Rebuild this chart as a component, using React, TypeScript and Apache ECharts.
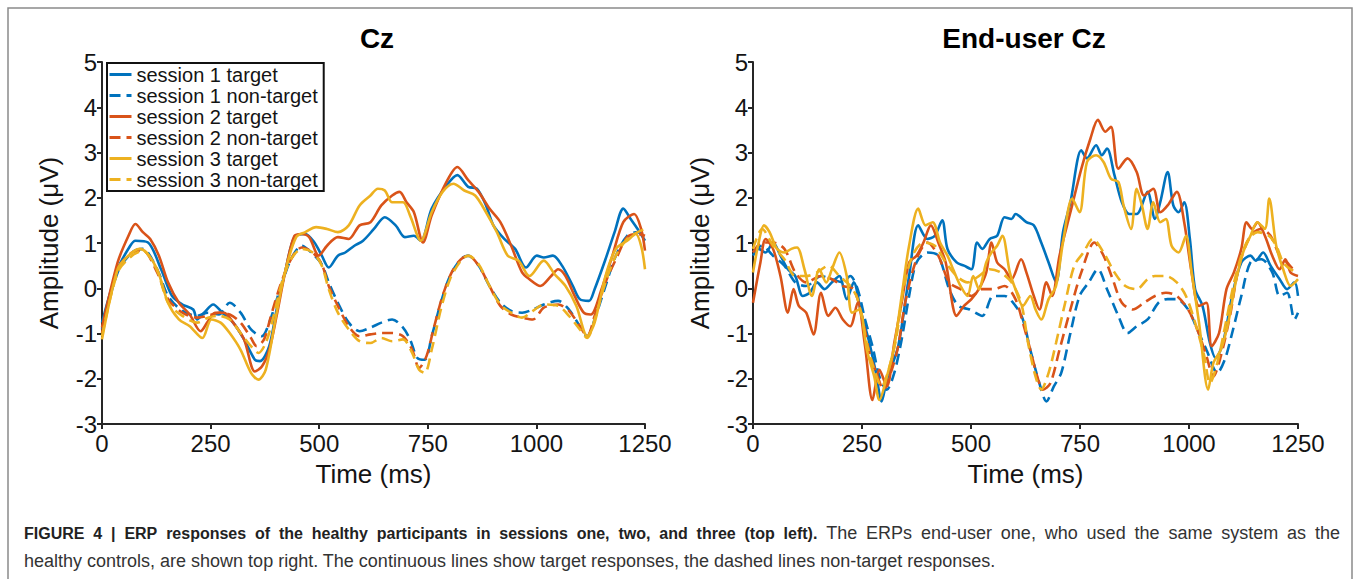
import React, { useEffect, useRef } from "react";
import * as echarts from "echarts";

const FONT = '"Liberation Sans", Arial, Helvetica, sans-serif';
const BLUE = "#0072BD";
const RED = "#D95319";
const YELLOW = "#EDB120";

const TITLES = ["Cz", "End-user Cz"];
const X_NAME = "Time (ms)";
const Y_NAME = "Amplitude (\u03bcV)";
const LEGEND_NAMES = [
  "session 1 target",
  "session 1 non-target",
  "session 2 target",
  "session 2 non-target",
  "session 3 target",
  "session 3 non-target",
];
const CAPTION_BOLD =
  "FIGURE 4 | ERP responses of the healthy participants in sessions one, two, and three (top left).";
const CAPTION_1 = "The ERPs end-user one, who used the same system as the";
const CAPTION_2 =
  "healthy controls, are shown top right. The continuous lines show target responses, the dashed lines non-target responses.";

// [time (ms), amplitude (µV)] — healthy participants (Cz)
const L_S1T = [[0,-0.76],[36,0.42],[65,0.94],[77,1.05],[106,1.01],[136,0.42],[161,-0.17],[185,-0.36],[210,-0.47],[219,-0.69],[235,-0.54],[256,-0.36],[277,-0.54],[302,-0.76],[327,-1.13],[352,-1.58],[364,-1.61],[385,-1.28],[402,-0.47],[423,0.42],[443,1.13],[468,1.2],[489,1.01],[506,0.72],[522,0.46],[543,0.72],[560,0.79],[581,0.94],[601,1.05],[626,1.31],[651,1.57],[676,1.39],[697,1.13],[718,1.16],[734,1.05],[759,1.76],[793,2.27],[818,2.5],[843,2.24],[863,2.2],[884,1.83],[901,1.39],[926,1.09],[951,0.87],[976,0.46],[1001,0.72],[1017,0.68],[1038,0.72],[1059,0.5],[1084,0.05],[1100,-0.24],[1121,-0.28],[1134,-0.02],[1159,0.64],[1180,1.24],[1200,1.76],[1217,1.53],[1233,1.31],[1250,1.05]];
const L_S1N = [[0,-0.91],[36,0.35],[69,0.79],[94,0.87],[127,0.42],[152,-0.17],[185,-0.5],[219,-0.61],[244,-0.54],[269,-0.58],[294,-0.32],[319,-0.54],[343,-0.91],[368,-1.06],[385,-0.76],[410,-0.02],[435,0.64],[460,0.94],[485,0.76],[506,0.53],[522,0.13],[543,-0.32],[568,-0.76],[593,-0.95],[618,-0.87],[643,-0.76],[668,-0.69],[693,-0.87],[709,-1.13],[726,-1.54],[743,-1.58],[759,-1.06],[780,-0.32],[801,0.27],[826,0.64],[843,0.72],[867,0.5],[892,0.05],[917,-0.32],[942,-0.5],[967,-0.54],[992,-0.47],[1017,-0.36],[1050,-0.28],[1075,-0.47],[1100,-0.84],[1117,-1.06],[1134,-0.69],[1159,0.05],[1183,0.72],[1209,1.16],[1233,1.24],[1250,1.13]];
const L_S2T = [[0,-0.87],[36,0.57],[61,1.16],[77,1.42],[94,1.24],[111,1.09],[131,0.72],[152,0.13],[177,-0.32],[202,-0.58],[227,-0.95],[244,-0.73],[260,-0.54],[281,-0.54],[302,-0.76],[327,-1.13],[352,-1.84],[368,-1.73],[385,-1.36],[402,-0.61],[423,0.42],[443,1.16],[460,1.2],[477,1.13],[499,0.72],[518,0.94],[543,1.13],[568,1.09],[593,1.39],[618,1.46],[643,1.83],[668,2.05],[685,2.13],[701,1.9],[718,1.68],[739,1.01],[759,1.61],[793,2.35],[818,2.68],[843,2.39],[867,2.13],[892,1.76],[917,1.46],[942,0.94],[967,0.35],[984,0.2],[1009,0.05],[1034,0.27],[1050,0.42],[1067,0.27],[1088,-0.17],[1109,-0.54],[1125,-0.58],[1150,-0.02],[1175,0.72],[1200,1.46],[1225,1.64],[1241,1.31],[1250,0.83]];
const L_S2N = [[0,-0.99],[36,0.42],[69,0.79],[94,0.83],[127,0.35],[152,-0.24],[185,-0.54],[219,-0.65],[244,-0.61],[269,-0.54],[294,-0.58],[319,-0.76],[343,-1.1],[356,-1.28],[373,-1.13],[389,-0.61],[410,0.05],[435,0.64],[460,0.9],[485,0.79],[506,0.53],[522,0.05],[543,-0.39],[568,-0.84],[593,-1.06],[618,-1.02],[643,-0.99],[668,-0.99],[693,-1.06],[714,-1.36],[730,-1.76],[747,-1.5],[763,-0.91],[784,-0.17],[805,0.35],[826,0.64],[843,0.72],[867,0.5],[892,0.05],[917,-0.39],[942,-0.58],[967,-0.65],[992,-0.69],[1017,-0.43],[1050,-0.36],[1075,-0.5],[1100,-0.84],[1117,-1.06],[1134,-0.61],[1159,0.13],[1183,0.64],[1209,1.13],[1233,1.2],[1250,1.16]];
const L_S3T = [[0,-1.13],[36,0.42],[61,0.72],[86,0.87],[102,0.79],[127,0.42],[152,-0.32],[177,-0.69],[202,-0.84],[231,-1.1],[252,-0.69],[273,-0.76],[294,-0.99],[319,-1.36],[343,-1.87],[360,-2.02],[377,-1.8],[402,-0.54],[423,0.42],[447,1.13],[468,1.24],[493,1.35],[518,1.31],[543,1.24],[568,1.39],[593,1.83],[618,2.05],[635,2.2],[651,2.16],[668,1.9],[693,1.9],[709,1.61],[734,1.05],[759,1.68],[784,2.13],[809,2.31],[834,2.16],[859,2.05],[884,1.68],[909,1.24],[934,0.72],[959,0.61],[984,0.27],[1017,0.61],[1042,0.31],[1067,0.05],[1092,-0.39],[1117,-1.06],[1134,-0.76],[1159,0.27],[1183,0.87],[1209,1.05],[1229,1.2],[1242,0.9],[1250,0.42]];
const L_S3N = [[0,-1.06],[36,0.35],[69,0.72],[94,0.83],[127,0.39],[152,-0.32],[185,-0.61],[219,-0.76],[244,-0.65],[269,-0.61],[294,-0.69],[319,-0.99],[343,-1.28],[360,-1.43],[377,-1.21],[393,-0.69],[414,0.13],[435,0.64],[460,0.87],[485,0.79],[506,0.5],[522,-0.02],[543,-0.54],[568,-0.91],[593,-1.17],[618,-1.21],[643,-1.1],[668,-1.17],[693,-1.13],[714,-1.43],[730,-1.8],[743,-1.87],[759,-1.36],[780,-0.47],[801,0.2],[826,0.61],[843,0.72],[867,0.53],[892,0.05],[917,-0.36],[942,-0.54],[967,-0.65],[992,-0.5],[1017,-0.36],[1050,-0.39],[1075,-0.61],[1100,-0.91],[1117,-1.1],[1134,-0.69],[1159,0.13],[1183,0.72],[1209,1.09],[1233,1.24],[1250,1.31]];

// [time (ms), amplitude (µV)] — end-user (Cz)
const R_S1T = [[0,0.72],[13,0.87],[29,0.79],[46,1.01],[63,0.72],[80,0.42],[97,0.27],[114,-0.17],[130,-0.1],[147,0.13],[164,-0.02],[181,0.13],[198,0.27],[215,-0.24],[231,0.13],[248,-0.54],[265,-1.13],[282,-1.87],[295,-2.5],[307,-2.02],[333,-1.28],[358,0.27],[379,1.39],[400,1.09],[417,1.16],[434,1.5],[446,0.87],[467,0.57],[484,0.5],[501,0.42],[514,1.01],[526,0.87],[543,1.09],[560,1.16],[577,1.57],[593,1.53],[602,1.64],[627,1.46],[644,1.39],[661,1.01],[678,0.57],[695,0.13],[711,1.24],[728,1.9],[753,3.05],[766,2.87],[787,3.16],[800,2.94],[812,3.09],[829,2.5],[846,1.9],[863,1.64],[880,1.64],[905,2.13],[922,1.53],[934,1.9],[951,2.57],[964,1.83],[976,1.68],[989,1.9],[1002,1.09],[1014,-0.02],[1031,-0.39],[1048,-1.21],[1061,-1.54],[1078,-1.21],[1099,-0.17],[1120,0.57],[1141,0.72],[1153,0.61],[1170,0.79],[1187,0.5],[1208,0.2],[1225,-0.02],[1242,0.13],[1250,-0.17]];
const R_S1N = [[0,0.79],[21,0.94],[46,0.72],[72,0.5],[97,0.13],[122,0.05],[156,0.27],[181,0.2],[206,0.13],[223,0.27],[240,-0.02],[257,-0.69],[274,-1.28],[290,-1.95],[307,-2.24],[324,-1.87],[341,-1.13],[358,-0.17],[375,0.57],[400,0.79],[425,0.72],[450,-0.02],[471,-0.39],[497,-0.47],[526,-0.61],[551,-0.17],[577,-0.17],[602,-0.39],[619,-0.69],[636,-1.36],[657,-2.1],[673,-2.5],[690,-2.17],[707,-1.87],[728,-0.99],[749,-0.17],[770,0.13],[791,0.42],[812,-0.02],[838,-0.61],[859,-0.99],[880,-0.84],[905,-0.69],[930,-0.32],[951,-0.24],[972,-0.24],[998,-0.47],[1019,-0.91],[1040,-1.36],[1065,-1.87],[1082,-1.58],[1099,-0.99],[1120,-0.17],[1141,0.57],[1166,0.64],[1191,0.35],[1208,-0.17],[1225,-0.1],[1242,-0.69],[1250,-0.54]];
const R_S2T = [[0,-0.32],[17,0.57],[29,1.09],[46,0.87],[63,0.27],[80,-0.54],[93,-0.02],[105,-0.39],[122,-0.54],[139,-1.02],[156,-0.1],[173,-0.61],[189,-0.43],[206,-0.69],[223,-0.84],[240,-0.32],[257,-1.28],[274,-2.47],[290,-1.8],[307,-2.17],[324,-1.21],[341,-0.32],[358,0.57],[375,0.72],[391,1.01],[408,1.39],[425,1.01],[442,0.57],[467,-0.61],[484,-0.39],[501,-0.24],[518,-0.02],[535,0.35],[547,1.01],[560,0.57],[577,0.42],[593,0.2],[615,0.64],[627,0.35],[644,-0.17],[657,-0.47],[673,0.13],[686,-0.17],[703,0.72],[728,1.68],[753,2.64],[774,3.31],[791,3.72],[808,3.46],[821,3.57],[838,2.64],[859,2.87],[880,2.57],[897,2.05],[918,2.2],[934,1.68],[951,1.83],[972,2.13],[989,1.46],[1006,0.35],[1023,-0.39],[1040,-0.32],[1052,-1.28],[1069,-0.99],[1086,-0.02],[1103,0.35],[1120,0.87],[1132,1.46],[1145,1.31],[1157,1.46],[1174,1.16],[1191,0.72],[1208,0.42],[1221,0.64],[1233,0.35],[1250,0.27]];
const R_S2N = [[0,0.79],[21,1.01],[46,1.01],[72,0.87],[97,0.35],[122,0.13],[156,0.27],[181,0.2],[206,0.05],[231,-0.02],[253,-0.76],[269,-1.5],[286,-1.95],[299,-2.24],[316,-1.87],[333,-1.28],[349,-0.32],[375,0.64],[400,1.01],[425,0.72],[450,0.13],[476,-0.02],[501,-0.17],[526,-0.02],[551,-0.02],[577,0.05],[602,-0.24],[619,-0.76],[636,-1.36],[652,-1.95],[665,-2.24],[682,-2.1],[703,-1.36],[728,-0.47],[753,0.35],[783,1.01],[804,0.72],[825,0.2],[846,-0.32],[871,-0.47],[897,-0.32],[922,-0.17],[947,-0.1],[972,-0.17],[998,-0.47],[1019,-0.91],[1040,-1.5],[1056,-1.95],[1073,-1.5],[1094,-0.61],[1115,0.5],[1141,1.16],[1166,1.31],[1187,1.16],[1208,0.72],[1225,0.57],[1242,0.42],[1250,0.42]];
const R_S3T = [[0,0.35],[13,1.01],[25,1.39],[38,1.24],[55,0.87],[72,0.79],[88,0.87],[101,0.9],[118,0.42],[135,-0.17],[152,0.42],[168,0.13],[181,0.42],[198,0.79],[215,0.27],[227,-0.54],[244,-0.47],[261,-1.36],[278,-1.95],[290,-2.47],[307,-1.95],[324,-1.28],[341,-0.17],[358,0.94],[379,1.76],[396,1.39],[412,1.46],[429,1.01],[446,0.72],[459,0.42],[476,0.05],[492,-0.17],[505,0.27],[518,-0.02],[535,0.57],[547,0.79],[560,0.94],[572,1.16],[589,0.35],[602,-0.02],[619,-0.39],[636,-0.17],[648,-0.47],[661,-0.69],[678,-0.24],[695,0.05],[711,1.01],[732,1.98],[749,1.68],[766,2.79],[787,2.94],[804,2.79],[821,2.42],[838,2.35],[850,1.83],[867,1.31],[880,2.2],[892,1.83],[905,1.31],[918,1.9],[934,1.46],[947,1.53],[960,0.94],[976,0.79],[993,1.16],[1006,0.35],[1023,-0.76],[1044,-2.24],[1056,-1.65],[1073,-1.36],[1090,-0.76],[1107,0.13],[1124,0.79],[1141,1.16],[1157,1.46],[1174,1.31],[1184,1.98],[1200,0.94],[1216,0.42],[1233,0.05],[1250,0.2]];
const R_S3N = [[0,0.87],[21,1.31],[46,0.94],[72,0.64],[97,0.27],[122,0.27],[147,0.35],[173,0.5],[198,0.27],[223,0.05],[240,-0.24],[261,-1.21],[278,-1.8],[295,-2.17],[311,-1.8],[328,-1.13],[345,-0.02],[366,0.72],[391,1.01],[417,0.94],[442,0.57],[467,0.27],[492,0.13],[518,0.27],[543,0.42],[568,0.35],[593,0.13],[615,-0.32],[631,-1.21],[648,-1.95],[661,-2.24],[678,-1.87],[695,-1.21],[716,-0.32],[737,0.5],[758,0.79],[779,1.09],[804,0.79],[829,0.35],[854,0.05],[880,-0.02],[905,0.2],[922,0.27],[947,0.27],[972,0.13],[993,-0.17],[1014,-0.76],[1035,-1.5],[1048,-2.1],[1065,-1.65],[1086,-0.69],[1107,0.27],[1132,1.01],[1157,1.24],[1183,1.16],[1200,0.94],[1216,0.57],[1233,0.42],[1250,0.35]];

const X_MIN = 0;
const X_MAX = 1250;
const X_STEP = 250;
const Y_MIN = -3;
const Y_MAX = 5;
const Y_STEP = 1;

const AXIS_COLOR = "#262626";
const TEXT_COLOR = "#141414";
const CAP_BOLD_SIZE = 16;
const CAP_REG_SIZE = 18;
const CAP_LEFT = 24;
const CAP_RIGHT = 1340;

function mkSeries(name: string, data: number[][], color: string, dashed: boolean, idx: number) {
  return {
    type: "line",
    name,
    data,
    xAxisIndex: idx,
    yAxisIndex: idx,
    symbol: "none",
    showSymbol: false,
    smooth: 0.3,
    clip: true,
    lineStyle: { color, width: 2.6, type: dashed ? [11, 6] : "solid", cap: "butt" },
    itemStyle: { color },
    emphasis: { disabled: true },
    z: 3,
  };
}

function xAxis(idx: number) {
  return {
    gridIndex: idx,
    type: "value",
    min: X_MIN,
    max: X_MAX,
    interval: X_STEP,
    name: X_NAME,
    nameLocation: "middle",
    nameGap: 37,
    nameTextStyle: { fontSize: 26, color: TEXT_COLOR, fontFamily: FONT },
    axisLine: { show: true, onZero: false, lineStyle: { color: AXIS_COLOR, width: 2 } },
    axisTick: { show: true, length: 5, lineStyle: { color: AXIS_COLOR, width: 2 } },
    axisLabel: {
      fontSize: 24,
      color: TEXT_COLOR,
      fontFamily: FONT,
      margin: 7,
      showMaxLabel: true,
      showMinLabel: true,
      formatter: (v: number) => String(v),
    },
    splitLine: { show: false },
  };
}

function yAxis(idx: number) {
  return {
    gridIndex: idx,
    type: "value",
    min: Y_MIN,
    max: Y_MAX,
    interval: Y_STEP,
    name: Y_NAME,
    nameLocation: "middle",
    nameRotate: 90,
    nameGap: 40,
    nameTextStyle: { fontSize: 26, color: TEXT_COLOR, fontFamily: FONT },
    axisLine: { show: true, onZero: false, lineStyle: { color: AXIS_COLOR, width: 2 } },
    axisTick: { show: true, length: 5, lineStyle: { color: AXIS_COLOR, width: 2 } },
    axisLabel: { fontSize: 24, color: TEXT_COLOR, fontFamily: FONT, margin: 5, formatter: (v: number) => String(v) },
    splitLine: { show: false },
  };
}

// Justified first caption line: rich text with widened word spaces.
function justifiedCaption() {
  const canvas = document.createElement("canvas");
  const ctx = canvas.getContext("2d");
  const boldWords = CAPTION_BOLD.split(" ");
  const regWords = CAPTION_1.split(" ");
  const boldFont = `bold ${CAP_BOLD_SIZE}px ${FONT}`;
  const regFont = `${CAP_REG_SIZE}px ${FONT}`;
  let natural = 0;
  let spaceW = CAP_REG_SIZE * 0.278;
  if (ctx) {
    ctx.font = boldFont;
    boldWords.forEach((w) => (natural += ctx.measureText(w).width));
    ctx.font = regFont;
    regWords.forEach((w) => (natural += ctx.measureText(w).width));
    spaceW = ctx.measureText(" ").width;
  } else {
    natural = 1316 - 30 * spaceW;
  }
  const gaps = boldWords.length + regWords.length - 1;
  let sp = (CAP_RIGHT - CAP_LEFT - natural) / gaps;
  if (!(sp > 2)) sp = spaceW;
  const parts: string[] = [];
  boldWords.forEach((w) => parts.push("{b|" + w + "}"));
  regWords.forEach((w) => parts.push("{r|" + w + "}"));
  return { text: parts.join("{s| }"), space: sp };
}

export default function App() {
  const ref = useRef<HTMLDivElement>(null);
  useEffect(() => {
    if (!ref.current) return;
    const chart = echarts.init(ref.current, null, { renderer: "svg" });
    const leftSets = [L_S1T, L_S1N, L_S2T, L_S2N, L_S3T, L_S3N];
    const rightSets = [R_S1T, R_S1N, R_S2T, R_S2N, R_S3T, R_S3N];
    const cols = [BLUE, BLUE, RED, RED, YELLOW, YELLOW];
    const series: any[] = [];
    leftSets.forEach((d, i) => series.push(mkSeries(LEGEND_NAMES[i], d, cols[i], i % 2 === 1, 0)));
    rightSets.forEach((d, i) => series.push(mkSeries("end-user " + LEGEND_NAMES[i], d, cols[i], i % 2 === 1, 1)));

    const cap = justifiedCaption();

    const option: any = {
      animation: false,
      backgroundColor: "#ffffff",
      grid: [
        { left: 102, top: 62, width: 543, height: 362, containLabel: false },
        { left: 753, top: 62, width: 545, height: 362, containLabel: false },
      ],
      xAxis: [xAxis(0), xAxis(1)],
      yAxis: [yAxis(0), yAxis(1)],
      legend: {
        data: LEGEND_NAMES,
        orient: "vertical",
        left: 107,
        top: 63,
        itemWidth: 22,
        itemHeight: 12,
        itemGap: 0,
        padding: [1, 6, 1, 1],
        backgroundColor: "#ffffff",
        borderColor: "#111111",
        borderWidth: 2,
        selectedMode: false,
        itemStyle: { opacity: 0, borderWidth: 0 },
        lineStyle: { width: 3 },
        textStyle: { fontSize: 20, color: TEXT_COLOR, fontFamily: FONT, lineHeight: 21 },
        z: 10,
      },
      graphic: [
        {
          type: "rect",
          silent: true,
          z: -10,
          shape: { x: 8, y: 8, width: 1344, height: 620 },
          style: { fill: "none", stroke: "#8a8a8a", lineWidth: 1.5 },
        },
        {
          type: "text",
          silent: true,
          x: 377,
          y: 38,
          style: { text: TITLES[0], fontSize: 28, fontWeight: "bold", fontFamily: FONT, fill: "#000", align: "center", verticalAlign: "middle" },
        },
        {
          type: "text",
          silent: true,
          x: 1024,
          y: 38,
          style: { text: TITLES[1], fontSize: 28, fontWeight: "bold", fontFamily: FONT, fill: "#000", align: "center", verticalAlign: "middle" },
        },
        {
          type: "text",
          silent: true,
          x: CAP_LEFT,
          y: 533,
          style: {
            text: cap.text,
            verticalAlign: "middle",
            align: "left",
            rich: {
              b: { fontSize: CAP_BOLD_SIZE, fontWeight: "bold", fontFamily: FONT, fill: "#222", lineHeight: 22 },
              r: { fontSize: CAP_REG_SIZE, fontFamily: FONT, fill: "#333", lineHeight: 22 },
              s: { fontSize: CAP_REG_SIZE, fontFamily: FONT, width: cap.space, lineHeight: 22 },
            },
          },
        },
        {
          type: "text",
          silent: true,
          x: CAP_LEFT,
          y: 561,
          style: { text: CAPTION_2, fontSize: CAP_REG_SIZE, fontFamily: FONT, fill: "#333", verticalAlign: "middle", align: "left" },
        },
      ],
      series,
    };
    chart.setOption(option);
    return () => chart.dispose();
  }, []);
  return (
    <div
      ref={ref}
      style={{ position: "fixed", left: 0, top: 0, width: 1358, height: 579, background: "#fff" }}
    />
  );
}
